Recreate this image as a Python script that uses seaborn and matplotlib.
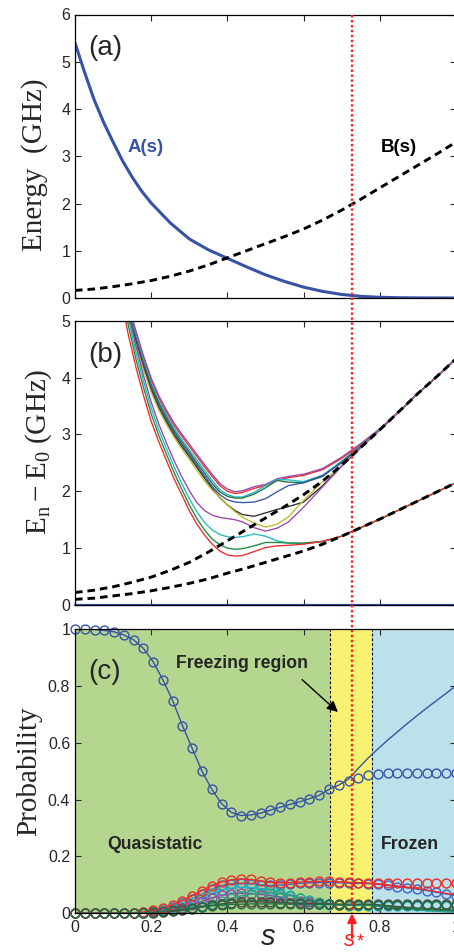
import matplotlib
matplotlib.use("Agg")
import matplotlib.pyplot as plt
import seaborn as sns
from matplotlib import transforms
from matplotlib.lines import Line2D

# ---------------- data: panel (a) ----------------
s_A = [0, 0.025, 0.05, 0.075, 0.1, 0.125, 0.15, 0.175, 0.2, 0.25, 0.3, 0.35, 0.4,
       0.45, 0.5, 0.55, 0.6, 0.65, 0.7, 0.75, 0.8, 0.85, 0.9, 0.95, 1.0]
A_s = [5.40, 4.78, 4.20, 3.72, 3.30, 2.90, 2.56, 2.26, 2.01, 1.59, 1.25, 1.02, 0.84,
       0.66, 0.49, 0.35, 0.23, 0.14, 0.075, 0.035, 0.015, 0.006, 0.002, 0.001, 0.0]
s_B = [0, 0.05, 0.1, 0.15, 0.2, 0.25, 0.3, 0.35, 0.4, 0.45, 0.5, 0.55, 0.6, 0.65,
       0.7, 0.75, 0.8, 0.85, 0.9, 0.95, 1.0]
B_s = [0.16, 0.19, 0.24, 0.30, 0.37, 0.46, 0.57, 0.70, 0.85, 1.00, 1.15, 1.30, 1.46,
       1.65, 1.86, 2.09, 2.33, 2.57, 2.81, 3.05, 3.30]

# ---------------- data: panel (b) ----------------
gap_lo_dash = [0.10, 0.12, 0.16, 0.20, 0.25, 0.31, 0.38, 0.46, 0.56, 0.65, 0.75, 0.85,
               0.95, 1.07, 1.21, 1.36, 1.51, 1.67, 1.83, 1.99, 2.15]
gap_hi_dash = [0.22, 0.26, 0.32, 0.40, 0.49, 0.61, 0.75, 0.93, 1.13, 1.33, 1.53, 1.73,
               1.94, 2.18, 2.46, 2.77, 3.08, 3.40, 3.72, 4.02, 4.33]
s_gap = [0.12, 0.14, 0.16, 0.18, 0.2, 0.22, 0.24, 0.26, 0.28, 0.3, 0.32, 0.34, 0.36,
         0.38, 0.4, 0.42, 0.44, 0.47, 0.5, 0.53, 0.56, 0.6, 0.65, 0.7, 0.75, 0.8,
         0.85, 0.9, 0.95, 1.0]
gap_red_lo = [5.45, 4.75, 4.18, 3.68, 3.23, 2.87, 2.54, 2.22, 1.94, 1.66, 1.42, 1.23, 1.07,
              0.95, 0.88, 0.86, 0.87, 0.94, 1.01, 1.04, 1.05, 1.07, 1.12, 1.21, 1.36,
              1.51, 1.67, 1.83, 1.99, 2.15]
gap_green_lo = [5.62, 4.92, 4.32, 3.82, 3.36, 2.98, 2.65, 2.33, 2.04, 1.76, 1.52, 1.32, 1.16,
                1.06, 1.00, 0.98, 0.99, 1.04, 1.10, 1.10, 1.09, 1.09, 1.12, 1.21, 1.36,
                1.51, 1.67, 1.83, 1.99, 2.15]
gap_cyan_lo = [5.75, 5.04, 4.44, 3.93, 3.47, 3.08, 2.75, 2.43, 2.14, 1.87, 1.64, 1.45, 1.32,
               1.24, 1.20, 1.19, 1.20, 1.25, 1.21, 1.13, 1.09, 1.08, 1.11, 1.21, 1.36,
               1.51, 1.67, 1.83, 1.99, 2.15]
gap_magenta_lo = [5.85, 5.15, 4.55, 4.03, 3.57, 3.18, 2.85, 2.54, 2.26, 2.01, 1.80, 1.66, 1.58,
                  1.54, 1.52, 1.50, 1.46, 1.36, 1.30, 1.35, 1.46, 1.72, 2.08, 2.44, 2.77,
                  3.08, 3.40, 3.72, 4.02, 4.33]
gap_yellow = [5.52, 5.05, 4.57, 4.13, 3.74, 3.43, 3.18, 2.95, 2.75, 2.56, 2.37, 2.18, 2.02,
              1.90, 1.76, 1.64, 1.54, 1.44, 1.37, 1.42, 1.55, 1.84, 2.17, 2.45, 2.77,
              3.08, 3.40, 3.72, 4.02, 4.33]
gap_black = [5.56, 5.09, 4.61, 4.17, 3.78, 3.47, 3.22, 2.99, 2.79, 2.61, 2.42, 2.23, 2.05,
             1.89, 1.76, 1.66, 1.59, 1.56, 1.62, 1.68, 1.73, 1.81, 2.10, 2.45, 2.77,
             3.08, 3.40, 3.72, 4.02, 4.33]
gap_blue = [5.60, 5.13, 4.65, 4.21, 3.82, 3.51, 3.26, 3.03, 2.83, 2.65, 2.46, 2.27, 2.09,
            1.94, 1.85, 1.81, 1.80, 1.81, 1.87, 1.99, 2.10, 2.15, 2.28, 2.50, 2.78,
            3.08, 3.40, 3.72, 4.02, 4.33]
gap_dkgreen = [5.64, 5.17, 4.69, 4.25, 3.86, 3.55, 3.30, 3.07, 2.87, 2.69, 2.50, 2.32, 2.14,
               1.99, 1.91, 1.88, 1.88, 1.95, 2.06, 2.19, 2.16, 2.15, 2.26, 2.52, 2.79,
               3.08, 3.40, 3.72, 4.02, 4.33]
gap_cyan_hi = [5.68, 5.21, 4.73, 4.29, 3.90, 3.59, 3.34, 3.11, 2.91, 2.73, 2.55, 2.37, 2.19,
               2.03, 1.94, 1.90, 1.90, 1.98, 2.10, 2.21, 2.20, 2.17, 2.28, 2.53, 2.80,
               3.09, 3.40, 3.72, 4.02, 4.33]
gap_red_hi = [5.72, 5.26, 4.78, 4.34, 3.95, 3.64, 3.39, 3.16, 2.97, 2.79, 2.61, 2.43, 2.26,
              2.10, 2.00, 1.96, 1.98, 2.05, 2.10, 2.19, 2.24, 2.28, 2.38, 2.58, 2.82,
              3.09, 3.40, 3.72, 4.02, 4.33]
gap_magenta_hi = [5.75, 5.30, 4.82, 4.38, 3.99, 3.68, 3.43, 3.20, 3.01, 2.83, 2.65, 2.47, 2.30,
                  2.14, 2.04, 1.99, 2.01, 2.08, 2.12, 2.22, 2.26, 2.30, 2.40, 2.60, 2.84,
                  3.10, 3.40, 3.72, 4.02, 4.33]

# ---------------- data: panel (c) ----------------
s_prob = [i / 39 for i in range(40)]
p0_circ = [1.000, 1.000, 0.998, 0.995, 0.990, 0.979, 0.962, 0.932, 0.885, 0.821,
           0.748, 0.660, 0.580, 0.500, 0.436, 0.386, 0.355, 0.344, 0.346, 0.352,
           0.363, 0.373, 0.383, 0.392, 0.403, 0.415, 0.436, 0.451, 0.464, 0.477,
           0.485, 0.490, 0.492, 0.493, 0.494, 0.494, 0.494, 0.494, 0.494, 0.494]
p0_line = [1.000, 1.000, 0.998, 0.995, 0.990, 0.979, 0.962, 0.932, 0.885, 0.821,
           0.748, 0.660, 0.580, 0.500, 0.436, 0.386, 0.355, 0.344, 0.346, 0.352,
           0.363, 0.373, 0.383, 0.392, 0.403, 0.415, 0.436, 0.451, 0.472, 0.510,
           0.546, 0.578, 0.609, 0.638, 0.667, 0.695, 0.722, 0.748, 0.774, 0.800]
p1_circ = [0, 0, 0, 0, 0, 0.001, 0.002, 0.005, 0.010, 0.018,
           0.030, 0.045, 0.062, 0.080, 0.097, 0.110, 0.118, 0.121, 0.119, 0.114,
           0.109, 0.107, 0.108, 0.110, 0.111, 0.112, 0.112, 0.111, 0.109, 0.108,
           0.107, 0.106, 0.106, 0.105, 0.105, 0.105, 0.105, 0.105, 0.105, 0.105]
p1_line = [0, 0, 0, 0, 0, 0.001, 0.002, 0.005, 0.010, 0.018,
           0.030, 0.045, 0.062, 0.080, 0.097, 0.110, 0.118, 0.121, 0.119, 0.114,
           0.109, 0.107, 0.108, 0.110, 0.111, 0.112, 0.112, 0.111, 0.109, 0.108,
           0.107, 0.104, 0.100, 0.096, 0.092, 0.087, 0.082, 0.076, 0.070, 0.064]
p2_vals = [0, 0, 0, 0, 0, 0, 0.001, 0.003, 0.007, 0.013,
           0.022, 0.035, 0.050, 0.068, 0.085, 0.098, 0.104, 0.105, 0.104, 0.101,
           0.098, 0.099, 0.102, 0.105, 0.107, 0.108, 0.108, 0.107, 0.106, 0.105,
           0.104, 0.102, 0.098, 0.094, 0.090, 0.085, 0.080, 0.074, 0.068, 0.062]
p3_circ = [0, 0, 0, 0, 0, 0, 0.001, 0.002, 0.005, 0.010,
           0.017, 0.027, 0.040, 0.055, 0.070, 0.082, 0.089, 0.092, 0.091, 0.087,
           0.082, 0.075, 0.066, 0.055, 0.045, 0.036, 0.030, 0.028, 0.027, 0.027,
           0.027, 0.027, 0.027, 0.027, 0.027, 0.027, 0.027, 0.027, 0.027, 0.027]
p3_line = [0, 0, 0, 0, 0, 0, 0.001, 0.002, 0.005, 0.010,
           0.017, 0.027, 0.040, 0.055, 0.070, 0.082, 0.089, 0.092, 0.091, 0.087,
           0.082, 0.075, 0.066, 0.055, 0.045, 0.036, 0.030, 0.028, 0.027, 0.027,
           0.027, 0.024, 0.020, 0.017, 0.014, 0.011, 0.009, 0.007, 0.005, 0.004]
p4_circ = [0, 0, 0, 0, 0, 0, 0.001, 0.002, 0.004, 0.008,
           0.013, 0.020, 0.030, 0.042, 0.054, 0.063, 0.068, 0.070, 0.069, 0.066,
           0.062, 0.057, 0.051, 0.045, 0.039, 0.034, 0.031, 0.030, 0.029, 0.029,
           0.029, 0.029, 0.029, 0.029, 0.029, 0.029, 0.029, 0.029, 0.029, 0.029]
p4_line = [0, 0, 0, 0, 0, 0, 0.001, 0.002, 0.004, 0.008,
           0.013, 0.020, 0.030, 0.042, 0.054, 0.063, 0.068, 0.070, 0.069, 0.066,
           0.062, 0.057, 0.051, 0.045, 0.039, 0.034, 0.031, 0.030, 0.029, 0.029,
           0.029, 0.027, 0.024, 0.021, 0.018, 0.015, 0.012, 0.010, 0.008, 0.006]
p5_circ = [0, 0, 0, 0, 0, 0, 0, 0, 0.002, 0.004,
           0.007, 0.011, 0.017, 0.025, 0.034, 0.044, 0.053, 0.061, 0.067, 0.071,
           0.072, 0.069, 0.062, 0.054, 0.046, 0.039, 0.034, 0.031, 0.030, 0.030,
           0.030, 0.030, 0.030, 0.030, 0.030, 0.030, 0.030, 0.030, 0.030, 0.030]
p5_line = [0, 0, 0, 0, 0, 0, 0, 0, 0.002, 0.004,
           0.007, 0.011, 0.017, 0.025, 0.034, 0.044, 0.053, 0.061, 0.067, 0.071,
           0.072, 0.069, 0.062, 0.054, 0.046, 0.039, 0.034, 0.031, 0.030, 0.030,
           0.030, 0.027, 0.023, 0.019, 0.016, 0.013, 0.010, 0.008, 0.006, 0.005]
p6_circ = [0, 0, 0, 0, 0, 0, 0, 0.001, 0.002, 0.004,
           0.007, 0.011, 0.016, 0.022, 0.028, 0.033, 0.037, 0.040, 0.041, 0.040,
           0.039, 0.037, 0.036, 0.035, 0.034, 0.033, 0.033, 0.032, 0.032, 0.032,
           0.032, 0.032, 0.032, 0.032, 0.032, 0.032, 0.032, 0.032, 0.032, 0.032]
p6_line = [0, 0, 0, 0, 0, 0, 0, 0.001, 0.002, 0.004,
           0.007, 0.011, 0.016, 0.022, 0.028, 0.033, 0.037, 0.040, 0.041, 0.040,
           0.039, 0.037, 0.036, 0.035, 0.034, 0.033, 0.033, 0.032, 0.032, 0.032,
           0.032, 0.030, 0.027, 0.024, 0.021, 0.018, 0.016, 0.014, 0.012, 0.010]
p7_circ = [0, 0, 0, 0, 0, 0, 0.001, 0.002, 0.004, 0.007,
           0.011, 0.015, 0.019, 0.023, 0.026, 0.029, 0.031, 0.032, 0.033, 0.033,
           0.033, 0.033, 0.032, 0.032, 0.031, 0.031, 0.031, 0.030, 0.030, 0.030,
           0.030, 0.030, 0.030, 0.030, 0.030, 0.030, 0.030, 0.030, 0.030, 0.030]
p7_line = [0, 0, 0, 0, 0, 0, 0.001, 0.002, 0.004, 0.007,
           0.011, 0.015, 0.019, 0.023, 0.026, 0.029, 0.031, 0.032, 0.033, 0.033,
           0.033, 0.033, 0.032, 0.032, 0.031, 0.031, 0.031, 0.030, 0.030, 0.030,
           0.030, 0.028, 0.025, 0.022, 0.019, 0.017, 0.015, 0.013, 0.011, 0.009]

s_star = 0.727
s_freeze = [0.669, 0.779]
x_ticks = [0, 0.2, 0.4, 0.6, 0.8, 1.0]
x_ticklabels = ["0", "0.2", "0.4", "0.6", "0.8", "1"]
ya_ticks = [0, 1, 2, 3, 4, 5, 6]
yb_ticks = [0, 1, 2, 3, 4, 5]
yc_ticks = [0, 0.2, 0.4, 0.6, 0.8, 1.0]
yc_ticklabels = ["0", "0.2", "0.4", "0.6", "0.8", "1"]

# ---------------- style ----------------
sns.set_style("ticks")
plt.rcParams["font.family"] = ["Liberation Sans", "DejaVu Sans"]
plt.rcParams["mathtext.fontset"] = "custom"
plt.rcParams["mathtext.rm"] = "Liberation Serif"
plt.rcParams["mathtext.it"] = "Liberation Sans:italic"
plt.rcParams["axes.linewidth"] = 0.9

BLUE = "#3753a6"
RED = "#ee2a2a"
GREEN = "#1f8a3c"
CYAN = "#22b9c4"
MAGENTA = "#9b45a8"
YELLOW = "#bcbc28"
BLACK = "#303030"
DKGREEN = "#237048"
TEAL = "#2aa383"
BG_GREEN = "#b5d68f"
BG_YELLOW = "#f8f172"
BG_BLUE = "#bbe2ea"
SRED = "#ff1f1f"

fig = plt.figure(figsize=(4.54, 9.52), dpi=100)
L, W = 75 / 454, 381 / 454
ax_a = fig.add_axes([L, 1 - 298 / 952, W, 283.5 / 952])
ax_b = fig.add_axes([L, 1 - 605 / 952, W, 284.3 / 952])
ax_c = fig.add_axes([L, 1 - 913.3 / 952, W, 284.3 / 952])


def line(ax, x, y, **kw):
    sns.lineplot(x=x, y=y, ax=ax, estimator=None, errorbar=None, sort=False,
                 legend=False, **kw)


def circles(ax, x, y, c):
    sns.lineplot(x=x, y=y, ax=ax, estimator=None, errorbar=None, sort=False,
                 legend=False, color=c, marker="o", linestyle="none",
                 markerfacecolor="none", markeredgecolor=c, markersize=6.4,
                 markeredgewidth=1.0, clip_on=False)


DASH = (0, (2.6, 1.7))

# ---- panel (a)
line(ax_a, s_A, A_s, color=BLUE, lw=2.2)
line(ax_a, s_B, B_s, color="black", lw=2.1, linestyle=DASH)
ax_a.text(0.185, 3.18, "A(s)", color=BLUE, fontsize=13.5, fontweight="bold",
          ha="center", va="center")
ax_a.text(0.85, 3.18, "B(s)", color="black", fontsize=13.5, fontweight="bold",
          ha="center", va="center")
ax_a.set_ylim(0, 6)
ax_a.set_yticks(ya_ticks)
ax_a.set_yticklabels([str(v) for v in ya_ticks])

# ---- panel (b)
gap_lines = [
    (gap_red_hi, RED), (gap_magenta_hi, MAGENTA), (gap_cyan_hi, CYAN),
    (gap_dkgreen, DKGREEN), (gap_blue, BLUE), (gap_black, BLACK),
    (gap_yellow, YELLOW), (gap_magenta_lo, MAGENTA), (gap_cyan_lo, CYAN),
    (gap_green_lo, GREEN), (gap_red_lo, RED),
]
for vals, c in gap_lines:
    line(ax_b, s_gap, vals, color=c, lw=0.95)
line(ax_b, s_B, gap_lo_dash, color="black", lw=2.1, linestyle=DASH)
line(ax_b, s_B, gap_hi_dash, color="black", lw=2.1, linestyle=DASH)
line(ax_b, [0, 1], [0, 0], color=BLUE, lw=1.6, clip_on=False)
ax_b.set_ylim(0, 5)
ax_b.set_yticks(yb_ticks)
ax_b.set_yticklabels([str(v) for v in yb_ticks])

# ---- panel (c)
ax_c.axvspan(0, s_freeze[0], color=BG_GREEN, lw=0, zorder=0)
ax_c.axvspan(s_freeze[0], s_freeze[1], color=BG_YELLOW, lw=0, zorder=0)
ax_c.axvspan(s_freeze[1], 1, color=BG_BLUE, lw=0, zorder=0)
for xv in s_freeze:
    ax_c.axvline(xv, color="black", lw=0.8, linestyle=(0, (2.5, 1.8)), zorder=1)

prob_series = [
    (p0_line, p0_circ, BLUE),
    (p2_vals, p2_vals, "#4060c8"),
    (p3_line, p3_circ, CYAN),
    (p4_line, p4_circ, MAGENTA),
    (p5_line, p5_circ, TEAL),
    (p6_line, p6_circ, "#5a3a30"),
    (p1_line, p1_circ, RED),
    (p7_line, p7_circ, DKGREEN),
]
for lv, cv, c in prob_series:
    line(ax_c, s_prob, lv, color=c, lw=1.0)
    circles(ax_c, s_prob, cv, c)

ax_c.text(0.438, 0.877, "Freezing region", fontsize=12.7, fontweight="bold",
          ha="center", va="center")
ax_c.annotate("", xy=(0.69, 0.708), xytext=(0.596, 0.822),
              arrowprops=dict(arrowstyle="-|>", color="black", lw=1.0,
                              mutation_scale=16, shrinkA=0, shrinkB=0))
ax_c.text(0.21, 0.243, "Quasistatic", fontsize=12.7, fontweight="bold",
          ha="center", va="center")
ax_c.text(0.879, 0.243, "Frozen", fontsize=12.7, fontweight="bold",
          ha="center", va="center")
ax_c.set_ylim(0, 1)
ax_c.set_yticks(yc_ticks)
ax_c.set_yticklabels(yc_ticklabels)

# ---- common axis formatting
for ax in (ax_a, ax_b, ax_c):
    ax.set_xlim(0, 1)
    ax.set_xticks(x_ticks)
    ax.tick_params(direction="in", top=True, right=True, length=4, width=0.8,
                   labelsize=11.5, pad=3.5)
    ax.set_xlabel("")
    ax.set_ylabel("")
    for sp in ax.spines.values():
        sp.set_visible(True)
        sp.set_color("black")
        sp.set_zorder(5)
ax_a.set_xticklabels([])
ax_b.set_xticklabels([])
ax_c.set_xticklabels(x_ticklabels)
ax_c.tick_params(axis="x", pad=5)

ax_a.text(0.034, 0.883, "(a)", transform=ax_a.transAxes, fontsize=20,
          ha="left", va="center")
ax_b.text(0.034, 0.88, "(b)", transform=ax_b.transAxes, fontsize=20,
          ha="left", va="center")
ax_c.text(0.034, 0.85, "(c)", transform=ax_c.transAxes, fontsize=20,
          ha="left", va="center")

serif = ["Liberation Serif", "DejaVu Serif"]
ax_a.set_ylabel("Energy  (GHz)", fontsize=21, family=serif)
ax_a.yaxis.set_label_coords(-0.072, 0.47)
ax_b.set_ylabel(r"$\mathrm{E_n - E_0}$ (GHz)", fontsize=21, family=serif)
ax_b.yaxis.set_label_coords(-0.055, 0.54)
ax_c.set_ylabel("Probability", fontsize=21, family=serif)
ax_c.yaxis.set_label_coords(-0.086, 0.50)

# x label and s* marker
fig.text(268 / 454, 1 / 952, "s", fontsize=21, style="italic",
         ha="center", va="bottom")
fig.text(350 / 454, 1 / 952, "s", fontsize=16, style="italic", color=SRED,
         ha="center", va="bottom")
fig.text(360 / 454, 1 - 933 / 952, "*", fontsize=13, color=SRED,
         ha="center", va="top")

# red dotted vertical line through all panels
tr = transforms.blended_transform_factory(ax_c.transData, fig.transFigure)
fig.add_artist(Line2D([s_star, s_star], [1 - 15 / 952, 1 - 913 / 952],
                      transform=tr, color=SRED, lw=1.7,
                      linestyle=(0, (1, 1.1)), zorder=10))
trc = transforms.blended_transform_factory(ax_c.transData, ax_c.transAxes)
ax_c.annotate("", xy=(s_star, 0.0), xycoords=trc, xytext=(s_star, -0.088),
              textcoords=trc,
              arrowprops=dict(arrowstyle="-|>", color=SRED, lw=1.6,
                              mutation_scale=13, shrinkA=0, shrinkB=0),
              annotation_clip=False)

fig.savefig("out.png", dpi=100)
